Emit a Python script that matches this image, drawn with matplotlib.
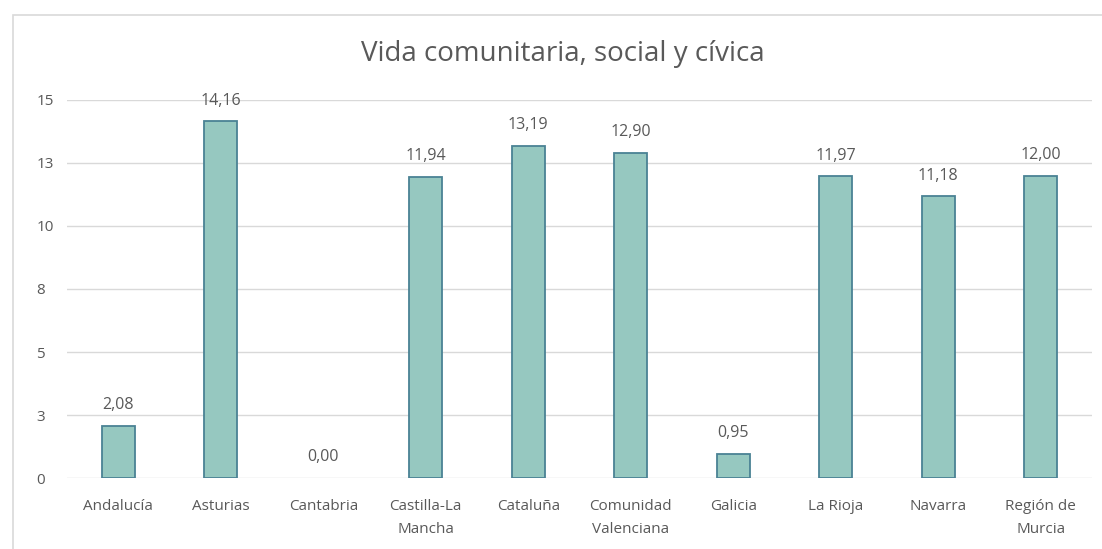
import matplotlib
matplotlib.use("Agg")
import matplotlib.pyplot as plt
from matplotlib.patches import Rectangle

regions = ["Andalucía", "Asturias", "Cantabria", "Castilla-La\nMancha", "Cataluña",
           "Comunidad\nValenciana", "Galicia", "La Rioja", "Navarra", "Región de\nMurcia"]
values = [2.08, 14.16, 0.00, 11.94, 13.19, 12.90, 0.95, 11.97, 11.18, 12.00]
y_ticks = [0, 2.5, 5, 7.5, 10, 12.5, 15]
y_tick_labels = ["0", "3", "5", "8", "10", "13", "15"]

plt.rcParams['font.family'] = ['Open Sans', 'DejaVu Sans']
text_color = "#595959"

fig = plt.figure(figsize=(11.02, 5.49), dpi=100)
ax = fig.add_axes([0.0608, 0.1293, 0.9302, 0.6886])

# chart frame like the Excel export
fig.patches.append(Rectangle((13 / 1102, -0.05), 1.1, 0.05 + 1 - 15 / 549,
                             transform=fig.transFigure, fill=False,
                             edgecolor="#d9d9d9", linewidth=1.2))

x = range(len(regions))
edges = ["#4a8294" if v > 0 else "none" for v in values]
bars = ax.bar(x, values, width=0.32, color="#96c8c0", edgecolor=edges, linewidth=1.3)

for xi, v in zip(x, values):
    ax.text(xi, v + 0.5, f"{v:.2f}".replace(".", ","), ha="center", va="bottom",
            fontsize=11.5, color=text_color)

ax.set_xlim(-0.5, len(regions) - 0.5)
ax.set_ylim(0, 15)
ax.set_yticks(y_ticks)
ax.set_yticklabels(y_tick_labels)
ax.set_xticks(list(x))
ax.set_xticklabels(regions, linespacing=1.75)
ax.tick_params(axis="both", length=0, labelsize=11, colors=text_color)
ax.tick_params(axis="x", pad=15)
ax.tick_params(axis="y", pad=22)
for lbl in ax.get_yticklabels():
    lbl.set_horizontalalignment("left")

ax.grid(axis="y", color="#d9d9d9", linewidth=1)
ax.set_axisbelow(True)
for s in ax.spines.values():
    s.set_visible(False)

fig.text(0.511, 0.902, "Vida comunitaria, social y cívica", ha="center", va="center",
         fontsize=20, color=text_color)

fig.savefig("out.png", dpi=100)
